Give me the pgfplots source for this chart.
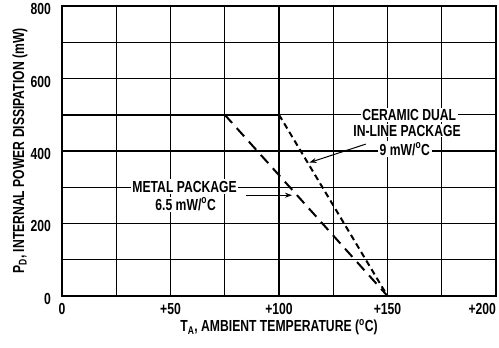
\documentclass[border=0pt]{standalone}
\usepackage{pgfplots}
\pgfplotsset{compat=1.18}
\usepackage{fontspec}
\setmainfont{Liberation Sans}[FakeStretch=0.76]
\usetikzlibrary{calc,arrows.meta}

\newcommand{\lbl}{\bfseries\fontsize{16}{17}\selectfont}

\begin{document}
\begin{tikzpicture}
\begin{axis}[
    name=ax,
    scale only axis,
    width=434pt, height=290pt,
    xmin=0, xmax=200,
    ymin=0, ymax=800,
    xtick={0,25,...,200},
    xticklabels={0,,+50,,+100,,+150,,{\makebox[0pt][r]{+200}\hspace{2pt}}},
    ytick={0,100,...,800},
    yticklabels={0,,200,,400,,600,,800},
    major tick length=0pt,
    grid=major,
    major grid style={black, line width=1.1pt},
    axis line style={black, line width=1.4pt},
    tick label style={font=\lbl},
    xticklabel style={inner sep=0pt, anchor=north, yshift=-7pt},
    yticklabel style={inner sep=0pt, anchor=east, xshift=-11pt, yshift=-3pt},
    xlabel={T\textsubscript{A}, AMBIENT TEMPERATURE (\textsuperscript{o}C)},
    ylabel={P\textsubscript{D}, INTERNAL POWER DISSIPATION (mW)},
    label style={font=\lbl, inner sep=0pt},
    xlabel style={at={(axis description cs:0.5,-0.108)}, anchor=center},
    ylabel style={at={(axis description cs:-0.097,0.5)}, anchor=center},
    clip=false,
]
% solid limit, shared by both packages
\addplot[black, line width=2.4pt] coordinates {(0,500) (100,500)};
% metal package, 6.5 mW/oC
\addplot[black, line width=2pt, dash pattern=on 11pt off 7pt] coordinates {(75,500) (150,0)};
% ceramic DIP, 9 mW/oC
\addplot[black, line width=2pt, dash pattern=on 6pt off 4pt] coordinates {(100,500) (150,0)};

\node[fill=white, inner sep=1.5pt, font=\lbl] at (axis cs:160,500) {CERAMIC DUAL};
\node[fill=white, inner sep=1pt, font=\lbl] at (axis cs:159,456) {IN-LINE PACKAGE};
\node[fill=white, inner sep=1.5pt, font=\lbl] at (axis cs:158,405) {9 mW/\textsuperscript{o}C};
\draw[line width=1pt, -{Stealth[length=7pt,width=5pt]}] (axis cs:140,419) -- (axis cs:114,368);

\node[fill=white, inner sep=1.5pt, font=\lbl] at (axis cs:56.5,302) {METAL PACKAGE};
\node[fill=white, inner sep=1pt, font=\lbl] at (axis cs:57,253) {6.5 mW/\textsuperscript{o}C};
\draw[line width=1pt, -{Stealth[length=7pt,width=5pt]}] (axis cs:85,278) -- (axis cs:106,278);
\end{axis}
\pgfresetboundingbox
\path ($(ax.south west)+(-62pt,-52pt)$) rectangle ($(ax.north east)+(3pt,6pt)$);
\end{tikzpicture}
\end{document}
